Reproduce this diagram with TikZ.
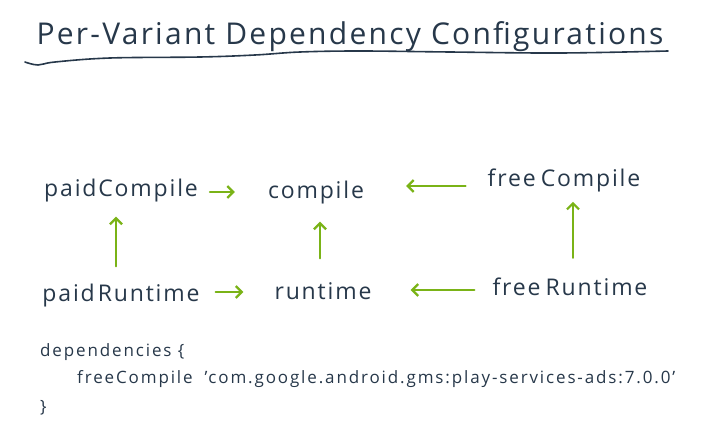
\documentclass[tikz,border=0pt]{standalone}
\usepackage{fontspec}
\setmainfont{Open Sans}
\usetikzlibrary{arrows.meta}
\definecolor{ink}{HTML}{27384A}
\definecolor{grn}{HTML}{7AB317}
\tikzset{
  lbl/.style={text=ink, inner sep=0pt, font=\fontsize{23}{26}\selectfont\addfontfeatures{LetterSpace=8}},
  arr/.style={draw=grn, line width=2.2pt, line cap=round, -{Straight Barb[length=6pt,width=12pt,line width=2.2pt]}},
  code/.style={text=ink, inner sep=0pt, anchor=west, font=\fontsize{17}{20}\selectfont\addfontfeatures{LetterSpace=11}}
}
\begin{document}
\begin{tikzpicture}[x=1pt,y=-1pt]
\useasboundingbox (0,0) rectangle (710,444);
\fill[white] (0,0) rectangle (710,444);
\node[text=ink, inner sep=0pt, font=\fontsize{30}{33}\selectfont\addfontfeatures{LetterSpace=7.5}] (title) at (350,37) {Per-Variant Dependency Configurations};
\draw[ink, line width=1.6pt, line cap=round] plot[smooth, tension=0.6] coordinates {(25,62) (38,65) (55,62) (110,58) (200,57) (255,55) (300,52) (360,51) (450,52) (560,53) (668,51)};
\node[lbl] (pc) at (121,191) {paidCompile};
\node[lbl] (c) at (316,193) {compile};
\node[lbl] (fc) at (564,180) {free\hspace{5pt}Compile};
\node[lbl] (pr) at (121,296) {paid\hspace{3pt}Runtime};
\node[lbl] (r) at (323,291) {runtime};
\node[lbl] (fr) at (570,287) {free\hspace{5pt}Runtime};
\draw[arr] ([xshift=12pt]pc.east |- 0,192) -- ([xshift=-33pt]c.west |- 0,192);
\draw[arr] ([xshift=-22pt]fc.west |- 0,186) -- ([xshift=42pt]c.east |- 0,186);
\draw[arr] ([xshift=16pt]pr.east |- 0,292) -- ([xshift=-31pt]r.west |- 0,292);
\draw[arr] ([xshift=-18pt]fr.west |- 0,290) -- ([xshift=39pt]r.east |- 0,290);
\draw[arr] (pr.north -| 116,0) ++(0,-18) -- ([yshift=-14pt]pc.south -| 116,0);
\draw[arr] (r.north -| 320,0) ++(0,-24) -- ([yshift=-17pt]c.south -| 320,0);
\draw[arr] (fr.north -| 573,0) ++(0,-20) -- ([yshift=-10pt]fc.south -| 573,0);
\node[code] (d1) at (40,352) {dependencies \{};
\node[code] (d2) at (77,379) {freeCompile\hspace{12pt}'com.google.android.gms:play-services-ads:7.0.0'};
\node[code] (d3) at (40,408) {\}};
\end{tikzpicture}
\end{document}
